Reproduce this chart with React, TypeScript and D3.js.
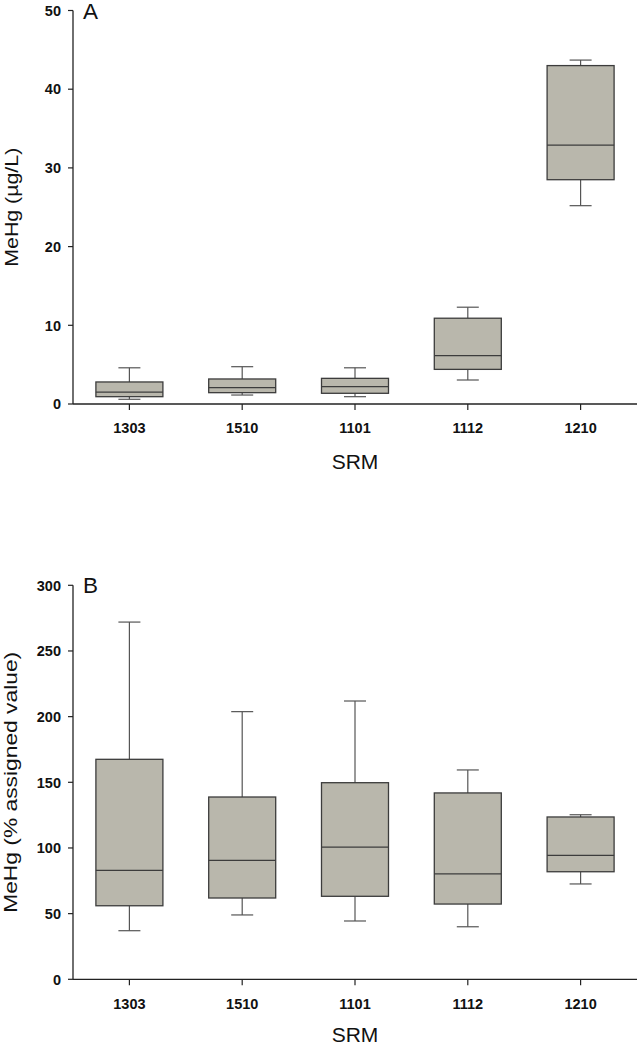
import React from 'react';
import * as d3 from 'd3';

const srm = ['1303', '1510', '1101', '1112', '1210'];

// Panel A: MeHg (µg/L)
const lowA = [0.6, 1.14, 0.93, 3.05, 25.2];
const q1A = [0.93, 1.44, 1.36, 4.4, 28.5];
const medA = [1.5, 2.07, 2.2, 6.14, 32.9];
const q3A = [2.8, 3.18, 3.26, 10.9, 43.0];
const highA = [4.6, 4.74, 4.6, 12.3, 43.7];
const ticksA = [0, 10, 20, 30, 40, 50];

// Panel B: MeHg (% assigned value)
const lowB = [37, 49, 44.4, 40, 72.6];
const q1B = [56, 61.9, 63.2, 57.3, 81.9];
const medB = [83, 90.6, 100.7, 80.2, 94.4];
const q3B = [167.5, 138.8, 149.7, 141.9, 123.6];
const highB = [272, 203.8, 211.9, 159.4, 125.3];
const ticksB = [0, 50, 100, 150, 200, 250, 300];

const FILL = '#b9b7ac';
const BOX_STROKE = '#3c3c3c';
const WHISK = '#555555';
const AXIS = '#222222';
const FONT = 'Arial, "Liberation Sans", Helvetica, sans-serif';

type PanelProps = {
  letter: string;
  yLabel: string;
  yLabelLen: number;
  yLabelX: number;
  yLabelSize: number;
  yTop: number;
  yBottom: number;
  titleDy: number;
  ticks: number[];
  low: number[];
  q1: number[];
  med: number[];
  q3: number[];
  high: number[];
};

function Panel(p: PanelProps) {
  const x = d3.scaleBand<string>().domain(srm).range([73, 637]).padding(0);
  const maxT = p.ticks[p.ticks.length - 1];
  const y = d3.scaleLinear().domain([0, maxT]).range([p.yBottom, p.yTop]);
  const bw = x.bandwidth() * 0.594;
  const cw = 22;
  const yMid = (p.yTop + p.yBottom) / 2;
  return (
    <g>
      {/* whiskers */}
      {srm.map((s, i) => {
        const cx = x(s)! + x.bandwidth() / 2;
        return (
          <g key={'w' + s} stroke={WHISK} strokeWidth={1.2} fill="none">
            <line x1={cx} x2={cx} y1={y(p.q3[i])} y2={y(p.high[i])} />
            <line x1={cx - cw / 2} x2={cx + cw / 2} y1={y(p.high[i])} y2={y(p.high[i])} />
            <line x1={cx} x2={cx} y1={y(p.q1[i])} y2={y(p.low[i])} />
            <line x1={cx - cw / 2} x2={cx + cw / 2} y1={y(p.low[i])} y2={y(p.low[i])} />
          </g>
        );
      })}
      {/* boxes */}
      {srm.map((s, i) => {
        const cx = x(s)! + x.bandwidth() / 2;
        return (
          <g key={'b' + s}>
            <rect
              x={cx - bw / 2}
              y={y(p.q3[i])}
              width={bw}
              height={y(p.q1[i]) - y(p.q3[i])}
              fill={FILL}
              stroke={BOX_STROKE}
              strokeWidth={1.3}
            />
            <line
              x1={cx - bw / 2}
              x2={cx + bw / 2}
              y1={y(p.med[i])}
              y2={y(p.med[i])}
              stroke={BOX_STROKE}
              strokeWidth={1.3}
            />
          </g>
        );
      })}
      {/* y axis */}
      <line x1={73} x2={73} y1={p.yTop} y2={p.yBottom} stroke={AXIS} strokeWidth={1.3} />
      {p.ticks.map((t) => (
        <g key={'yt' + t}>
          <line x1={68} x2={73} y1={y(t)} y2={y(t)} stroke={AXIS} strokeWidth={1.2} />
          <text
            x={61}
            y={y(t)}
            dy="0.36em"
            textAnchor="end"
            fontFamily={FONT}
            fontWeight="bold"
            fontSize={14.5}
            fill="#111"
          >
            {t}
          </text>
        </g>
      ))}
      {/* x axis */}
      <line x1={73} x2={637} y1={p.yBottom} y2={p.yBottom} stroke={AXIS} strokeWidth={1.3} />
      {srm.map((s) => {
        const cx = x(s)! + x.bandwidth() / 2;
        return (
          <g key={'xt' + s}>
            <line x1={cx} x2={cx} y1={p.yBottom} y2={p.yBottom + 6} stroke={AXIS} strokeWidth={1.2} />
            <text
              x={cx}
              y={p.yBottom + 29.3}
              textAnchor="middle"
              fontFamily={FONT}
              fontWeight="bold"
              fontSize={14.5}
              fill="#111"
            >
              {s}
            </text>
          </g>
        );
      })}
      {/* x title */}
      <text
        x={355}
        y={p.yBottom + p.titleDy}
        textAnchor="middle"
        fontFamily={FONT}
        fontSize={21}
        fill="#111"
      >
        SRM
      </text>
      {/* y title */}
      <text
        transform={`translate(${p.yLabelX},${yMid}) rotate(-90)`}
        textAnchor="middle"
        fontFamily={FONT}
        fontSize={p.yLabelSize}
        textLength={p.yLabelLen}
        lengthAdjust="spacingAndGlyphs"
        fill="#111"
      >
        {p.yLabel}
      </text>
      {/* panel letter */}
      <text x={83} y={p.yTop + 8} fontFamily={FONT} fontSize={22.5} fill="#111">
        {p.letter}
      </text>
    </g>
  );
}

export default function App() {
  return (
    <svg
      width={638}
      height={1045}
      style={{ position: 'absolute', left: 0, top: 0, background: '#fff' }}
    >
      <rect x={0} y={0} width={638} height={1045} fill="#fff" />
      <Panel
        letter="A"
        yLabel="MeHg (µg/L)"
        yLabelLen={119}
        yLabelX={18}
        yLabelSize={19}
        yTop={10.5}
        yBottom={404}
        titleDy={65}
        ticks={ticksA}
        low={lowA}
        q1={q1A}
        med={medA}
        q3={q3A}
        high={highA}
      />
      <Panel
        letter="B"
        yLabel="MeHg (% assigned value)"
        yLabelLen={261}
        yLabelX={17}
        yLabelSize={18.5}
        yTop={585.3}
        yBottom={979.3}
        titleDy={63}
        ticks={ticksB}
        low={lowB}
        q1={q1B}
        med={medB}
        q3={q3B}
        high={highB}
      />
    </svg>
  );
}
